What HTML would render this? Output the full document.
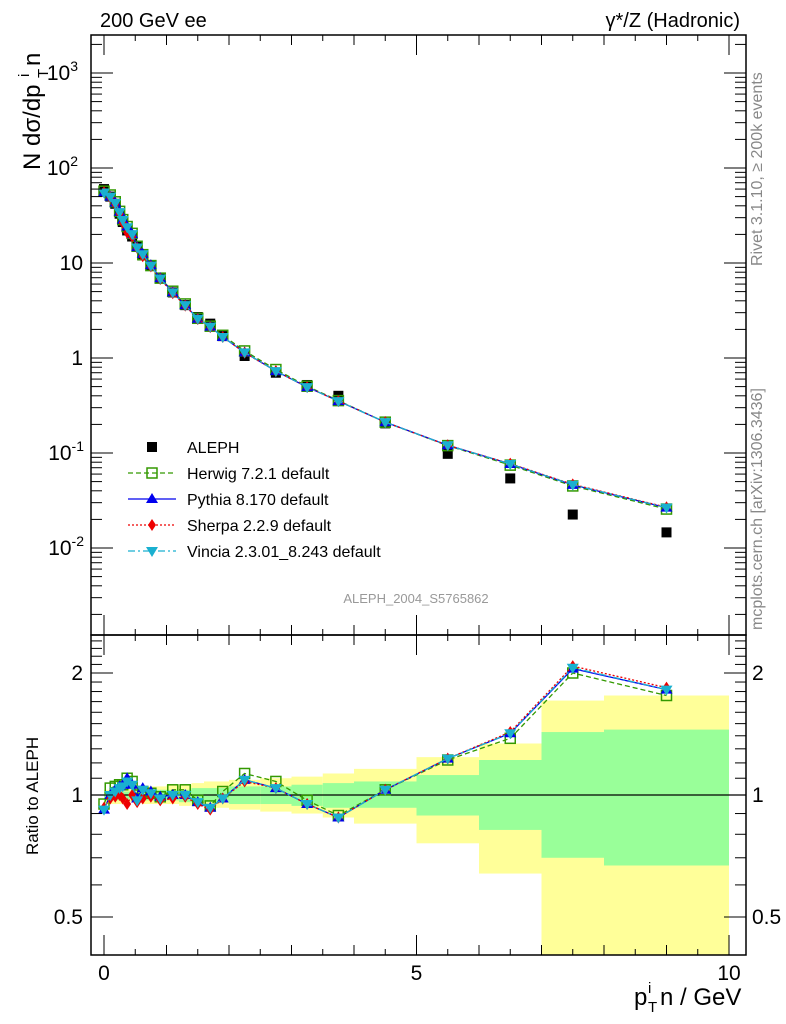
<!DOCTYPE html>
<html><head><meta charset="utf-8">
<style>
html,body{margin:0;padding:0;background:#fff;}
svg{display:block;font-family:"Liberation Sans",sans-serif;}
</style></head>
<body>
<svg id="c" width="786" height="1024" viewBox="0 0 786 1024" xmlns="http://www.w3.org/2000/svg"></svg>
<script>
const pt = [0,0.1,0.18,0.25,0.3,0.37,0.45,0.53,0.62,0.75,0.9,1.1,1.3,1.5,1.7,1.9,2.25,2.75,3.25,3.75,4.5,5.5,6.5,7.5,9];
const aleph = [60,50,42,33,27,22,19,15,12,9.3,7,4.9,3.6,2.7,2.3,1.7,1.05,0.70,0.52,0.40,0.205,0.098,0.054,0.0225,0.0146];
const herwigRatio = [0.95,1.04,1.05,1.06,1.06,1.1,1.08,1.0,1.02,1.01,0.99,1.03,1.03,0.97,0.94,1.02,1.13,1.08,0.97,0.89,1.03,1.22,1.38,2.0,1.76];
const pythiaRatio = [0.92,1.0,1.03,1.05,1.06,1.1,1.06,0.98,1.04,1.02,0.99,1.0,1.0,0.96,0.93,0.98,1.09,1.04,0.95,0.88,1.03,1.23,1.42,2.05,1.82];
const sherpaRatio = [0.93,0.98,0.99,1.0,0.98,0.95,1.0,0.96,0.98,0.99,0.97,0.98,0.99,0.95,0.92,0.98,1.08,1.04,0.95,0.88,1.03,1.23,1.43,2.08,1.84];
const vinciaRatio = [0.92,1.0,1.02,1.04,1.05,1.08,1.06,0.97,1.03,1.01,0.98,1.0,1.0,0.96,0.93,0.98,1.09,1.04,0.95,0.88,1.03,1.23,1.42,2.06,1.82];
const bandEdges = [0,0.2,0.4,0.6,0.8,1,1.2,1.4,1.6,1.8,2,2.5,3,3.5,4,5,6,7,8,10];
const yellowLo = [0.95,0.95,0.96,0.95,0.95,0.95,0.94,0.94,0.93,0.93,0.92,0.91,0.90,0.88,0.85,0.76,0.64,0.35,0.40];
const yellowHi = [1.03,1.04,1.04,1.05,1.05,1.06,1.06,1.07,1.08,1.08,1.09,1.10,1.11,1.13,1.16,1.24,1.34,1.71,1.76];
const greenLo = [0.97,0.97,0.98,0.97,0.97,0.97,0.96,0.96,0.96,0.96,0.95,0.95,0.94,0.93,0.93,0.89,0.82,0.70,0.67];
const greenHi = [1.02,1.02,1.02,1.03,1.03,1.03,1.03,1.04,1.04,1.04,1.05,1.05,1.06,1.07,1.08,1.12,1.22,1.43,1.45];
const mainTickLabels = ["10^-2","10^-1","1","10","10^2","10^3"];
const ratioTickLabels = ["0.5","1","2"];
const xTickLabels = ["0","5","10"];

const L=91,R=746,T=35,M=635,B=955;
const X=v=>104+v*62.5;
const Ym=v=>358-95*Math.log10(v);
const Yr=v=>795-122*Math.log2(v);
const svg=document.getElementById('c');
const NS='http://www.w3.org/2000/svg';
function mk(tag,attrs,parent){const e=document.createElementNS(NS,tag);for(const k in attrs)e.setAttribute(k,attrs[k]);(parent||svg).appendChild(e);return e;}

const bands=mk('g',{});


for(let i=0;i<yellowLo.length;i++){
  const x0=X(bandEdges[i]),x1=X(bandEdges[i+1]);
  const yl=Math.min(Yr(yellowLo[i]),B),yh=Math.max(Yr(yellowHi[i]),M);
  const r=mk('rect',{x:x0,y:yh,width:x1-x0,height:yl-yh,fill:'#ffff99'},bands);
  
  
  const g=mk('rect',{x:x0,y:Yr(greenHi[i]),width:x1-x0,height:Yr(greenLo[i])-Yr(greenHi[i]),fill:'#99ff99'},bands);
  
  
}
mk('line',{x1:L,x2:R,y1:Yr(1),y2:Yr(1),stroke:'#000','stroke-width':1.2});

function marker(g,type,x,y,color){
  if(type==='sq') return mk('rect',{x:x-5,y:y-5,width:10,height:10,fill:'#000'},g);
  if(type==='osq') return mk('rect',{x:x-5,y:y-5,width:10,height:10,fill:'none',stroke:color,'stroke-width':1.5},g);
  if(type==='up') return mk('polygon',{points:`${x},${y-6} ${x-6},${y+4} ${x+6},${y+4}`,fill:color},g);
  if(type==='dia') return mk('polygon',{points:`${x},${y-6} ${x-4},${y} ${x},${y+6} ${x+4},${y}`,fill:color},g);
  if(type==='dn') return mk('polygon',{points:`${x},${y+6} ${x-6},${y-4} ${x+6},${y-4}`,fill:color},g);
}
const series=[
 {name:'herwig',ratio:herwigRatio,color:'#339900',dash:'5,3',m:'osq'},
 {name:'pythia',ratio:pythiaRatio,color:'#0000ee',dash:'',m:'up'},
 {name:'sherpa',ratio:sherpaRatio,color:'#ee0000',dash:'2,2',m:'dia'},
 {name:'vincia',ratio:vinciaRatio,color:'#1ab0d0',dash:'7,3,2,3',m:'dn'}
];
const ga=mk('g',{});


pt.forEach((p,i)=>{const e=marker(ga,'sq',X(p),Ym(aleph[i]));

});
series.forEach(s=>{
  const g=mk('g',{});
  
  
  const mainPts=pt.map((p,i)=>X(p)+','+Ym(aleph[i]*s.ratio[i])).join(' ');
  const rPts=pt.map((p,i)=>X(p)+','+Yr(s.ratio[i])).join(' ');
  const a={fill:'none',stroke:s.color,'stroke-width':1.3};if(s.dash)a['stroke-dasharray']=s.dash;
  mk('polyline',Object.assign({points:mainPts},a),g);
  mk('polyline',Object.assign({points:rPts},a),g);
  pt.forEach((p,i)=>{
    const e1=marker(g,s.m,X(p),Ym(aleph[i]*s.ratio[i]),s.color);
    
    
    const e2=marker(g,s.m,X(p),Yr(s.ratio[i]),s.color);
    
    
  });
});

mk('rect',{x:L,y:T,width:R-L,height:M-T,fill:'none',stroke:'#000','stroke-width':1.5});
mk('rect',{x:L,y:M,width:R-L,height:B-M,fill:'none',stroke:'#000','stroke-width':1.5});

const ax=mk('g',{stroke:'#000','stroke-width':1});
for(let d=-3;d<=3;d++){for(let k=1;k<10;k++){const v=k*Math.pow(10,d);const y=Ym(v);if(y<T||y>M)continue;
 const len=k===1?22:11;mk('line',{x1:L,x2:L+len,y1:y,y2:y},ax);mk('line',{x1:R,x2:R-len,y1:y,y2:y},ax);}}
for(let v=0.4;v<=2.5;v+=0.1){const y=Yr(v);if(y<M||y>B)continue;const maj=Math.abs(v-0.5)<1e-6||Math.abs(v-1)<1e-6||Math.abs(v-2)<1e-6;
 const len=maj?22:11;mk('line',{x1:L,x2:L+len,y1:y,y2:y},ax);mk('line',{x1:R,x2:R-len,y1:y,y2:y},ax);}
for(let v=0;v<=10.01;v+=0.5){const x=X(v);const maj=Math.abs(v%5)<1e-6;const len=maj?20:(Math.abs(v%1)<1e-6?10:6);
 [T,M].forEach(y0=>mk('line',{x1:x,x2:x,y1:y0,y2:y0+len},ax));
 mk('line',{x1:x,x2:x,y1:B,y2:B-len},ax);mk('line',{x1:x,x2:x,y1:M,y2:M-len},ax);}

const dec=[-2,-1,0,1,2,3];
mainTickLabels.forEach((lab,i)=>{const y=Ym(Math.pow(10,dec[i]));const t=mk('text',{x:83,y:y+7,'text-anchor':'end','font-size':21});
 
 
 if(lab.startsWith('10^')){t.textContent='10';const s=mk('tspan',{dy:-9,'font-size':14},t);s.textContent=lab.slice(3);}else t.textContent=lab;
 if(lab.startsWith('10^')) t.setAttribute('x',lab.includes('-')?84:78);});
const rv=[0.5,1,2];
ratioTickLabels.forEach((lab,i)=>{const y=Yr(rv[i])+7;
 const t=mk('text',{x:83,y:y,'text-anchor':'end','font-size':21});t.textContent=lab;
 
 
 const t2=mk('text',{x:752,y:y,'font-size':21});t2.textContent=lab;
 
 });
const xv=[0,5,10];
xTickLabels.forEach((lab,i)=>{const t=mk('text',{x:X(xv[i]),y:980,'text-anchor':'middle','font-size':21});t.textContent=lab;
 
 });

const leg=mk('g',{});


const legItems=[['ALEPH',null],['Herwig 7.2.1 default',series[0]],['Pythia 8.170 default',series[1]],['Sherpa 2.2.9 default',series[2]],['Vincia 2.3.01_8.243 default',series[3]]];
legItems.forEach((it,i)=>{const y=447+i*26;const g=mk('g',{},leg);
 
 
 if(it[1]){const a={x1:128,x2:176,y1:y,y2:y,stroke:it[1].color,'stroke-width':1.3};if(it[1].dash)a['stroke-dasharray']=it[1].dash;mk('line',a,g);marker(g,it[1].m,152,y,it[1].color);}
 else marker(g,'sq',152,y);
 const t=mk('text',{x:187,y:y+6,'font-size':16},g);t.textContent=it[0];});
</script>
<svg style="position:absolute;left:0;top:0" width="786" height="1024" xmlns="http://www.w3.org/2000/svg" font-family="Liberation Sans, sans-serif">
 <text x="100" y="27" font-size="20">200 GeV ee</text>
 <text x="740" y="27" font-size="20" text-anchor="end">γ*/Z (Hadronic)</text>
 <text x="416" y="603" font-size="13" fill="#999" text-anchor="middle">ALEPH_2004_S5765862</text>
 <g transform="translate(40,170) rotate(-90)" font-size="24">
  <text x="0" y="0">N dσ/dp</text>
  <text x="92" y="8" font-size="15">T</text>
  <text x="93" y="-11" font-size="15">i</text>
  <text x="104" y="0">n</text>
 </g>
 <text transform="translate(38,855) rotate(-90)" font-size="17">Ratio to ALEPH</text>
 <g font-size="24">
  <text x="634" y="1005">p</text>
  <text x="648" y="1012" font-size="15">T</text>
  <text x="648" y="993" font-size="15">i</text>
  <text x="660" y="1005">n / GeV</text>
 </g>
 <text transform="translate(762,266) rotate(-90)" font-size="16" fill="#888">Rivet 3.1.10, ≥ 200k events</text>
 <text transform="translate(762,630) rotate(-90)" font-size="16" fill="#888">mcplots.cern.ch [arXiv:1306.3436]</text>
</svg>
</body></html>
